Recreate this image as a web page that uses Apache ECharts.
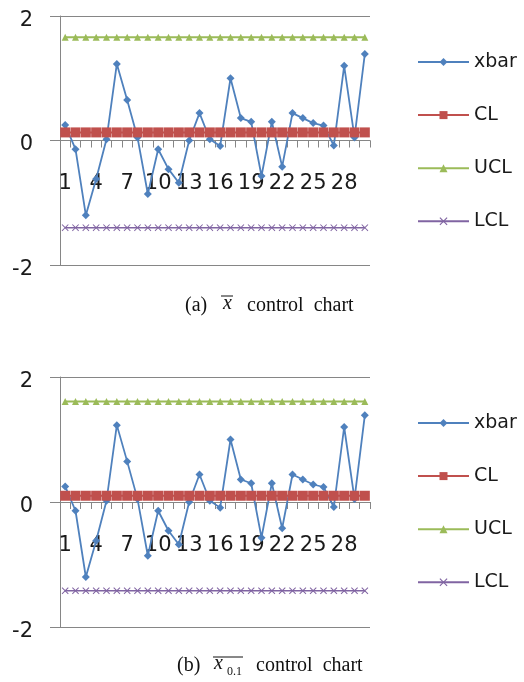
<!DOCTYPE html>
<html>
<head>
<meta charset="utf-8">
<script src="https://cdn.jsdelivr.net/npm/echarts@6/dist/echarts.min.js"></script>
<style>
html,body{margin:0;padding:0;background:#fff;}
#c{width:524px;height:682px;}
</style>
</head>
<body>
<div id="c"></div>
<script>
var categories = ['1','2','3','4','5','6','7','8','9','10','11','12','13','14','15','16','17','18','19','20','21','22','23','24','25','26','27','28','29','30'];
var xbarValues = [0.25,-0.14,-1.20,-0.62,0.02,1.23,0.65,0.05,-0.86,-0.14,-0.46,-0.68,0.0,0.44,0.02,-0.09,1.0,0.36,0.30,-0.57,0.30,-0.42,0.44,0.36,0.28,0.24,-0.08,1.20,0.05,1.39];
var clA = 0.13, uclA = 1.66, lclA = -1.40;
var clB = 0.10, uclB = 1.61, lclB = -1.42;
var yTicks = [-2, 0, 2];
var seriesNames = ['xbar','CL','UCL','LCL'];

function constant(v){ return categories.map(function(){ return v; }); }

var COL = {xbar:'#4F81BD', CL:'#C0504D', UCL:'#9BBB59', LCL:'#8064A2'};
var xSym = 'path://M0,1 L1,0 L5,4 L9,0 L10,1 L6,5 L10,9 L9,10 L5,6 L1,10 L0,9 L4,5 Z';

function makeSeries(idx, cl, ucl, lcl){
  var base = {type:'line', xAxisIndex:idx, yAxisIndex:idx, showAllSymbol:true, animation:false};
  return [
    Object.assign({name:'xbar', data:xbarValues, symbol:'diamond', symbolSize:8,
     lineStyle:{color:COL.xbar,width:1.8}, itemStyle:{color:COL.xbar}}, base),
    Object.assign({name:'CL', data:constant(cl), symbol:'rect', symbolSize:10,
     lineStyle:{color:COL.CL,width:2}, itemStyle:{color:COL.CL}}, base),
    Object.assign({name:'UCL', data:constant(ucl), symbol:'triangle', symbolSize:7,
     lineStyle:{color:COL.UCL,width:2}, itemStyle:{color:COL.UCL}}, base),
    Object.assign({name:'LCL', data:constant(lcl), symbol:xSym, symbolSize:7,
     lineStyle:{color:COL.LCL,width:1.5}, itemStyle:{color:COL.LCL}}, base)
  ];
}

function xAxisCfg(idx, halfHeight){
  return {type:'category', gridIndex:idx, data:categories, boundaryGap:true, position:'bottom',
    offset:-halfHeight,
    axisLine:{onZero:false, lineStyle:{color:'#868686',width:1}},
    axisTick:{show:true, interval:0, length:7, lineStyle:{color:'#868686'}},
    axisLabel:{interval:2, margin:33, fontSize:21, fontFamily:'DejaVu Sans', color:'#1a1a1a'},
    splitLine:{show:false}};
}
function yAxisCfg(idx){
  return {type:'value', gridIndex:idx, min:yTicks[0], max:yTicks[yTicks.length-1], interval:2,
    axisLine:{show:true, lineStyle:{color:'#868686',width:1}},
    axisTick:{show:true, length:10, lineStyle:{color:'#868686'}},
    axisLabel:{margin:27, fontSize:21, fontFamily:'DejaVu Sans', color:'#1a1a1a', verticalAlign:'top', lineHeight:9},
    splitLine:{show:true, lineStyle:{color:'#868686',width:1}}};
}
function legendCfg(top){
  return {orient:'vertical', left:412, top:top, itemWidth:51, itemHeight:10, itemGap:33.1,
    data:seriesNames, textStyle:{fontSize:19, fontFamily:'DejaVu Sans', color:'#1a1a1a', lineHeight:20}};
}

var serif = '20px "Liberation Serif", "Times New Roman", serif';
var italicSerif = 'italic 20px "Liberation Serif", "Times New Roman", serif';

var option = {
  backgroundColor:'#fff',
  animation:false,
  grid:[
    {left:60, top:16, width:310, height:249},
    {left:60, top:377, width:310, height:250}
  ],
  xAxis:[xAxisCfg(0, 124.5), xAxisCfg(1, 125)],
  yAxis:[yAxisCfg(0), yAxisCfg(1)],
  legend:[legendCfg(47), legendCfg(408)],
  series: makeSeries(0, clA, uclA, lclA).concat(makeSeries(1, clB, uclB, lclB)),
  graphic:[
    {type:'text', left:185, top:296, style:{text:'(a)', font:serif, fill:'#111'}},
    {type:'text', left:223, top:294, style:{text:'x', font:italicSerif, fill:'#111'}},
    {type:'line', shape:{x1:221, y1:296, x2:233, y2:296}, style:{stroke:'#111', lineWidth:1}},
    {type:'text', left:247, top:296, style:{text:'control  chart', font:serif, fill:'#111'}},

    {type:'text', left:177, top:656, style:{text:'(b)', font:serif, fill:'#111'}},
    {type:'text', left:214, top:654, style:{text:'x', font:italicSerif, fill:'#111'}},
    {type:'text', left:227, top:666, style:{text:'0.1', font:'12px "Liberation Serif", serif', fill:'#111'}},
    {type:'line', shape:{x1:213, y1:657, x2:243, y2:657}, style:{stroke:'#111', lineWidth:1}},
    {type:'text', left:256, top:656, style:{text:'control  chart', font:serif, fill:'#111'}}
  ]
};

var chart = echarts.init(document.getElementById('c'), null, {renderer:'canvas'});
chart.setOption(option);
</script>
</body>
</html>
